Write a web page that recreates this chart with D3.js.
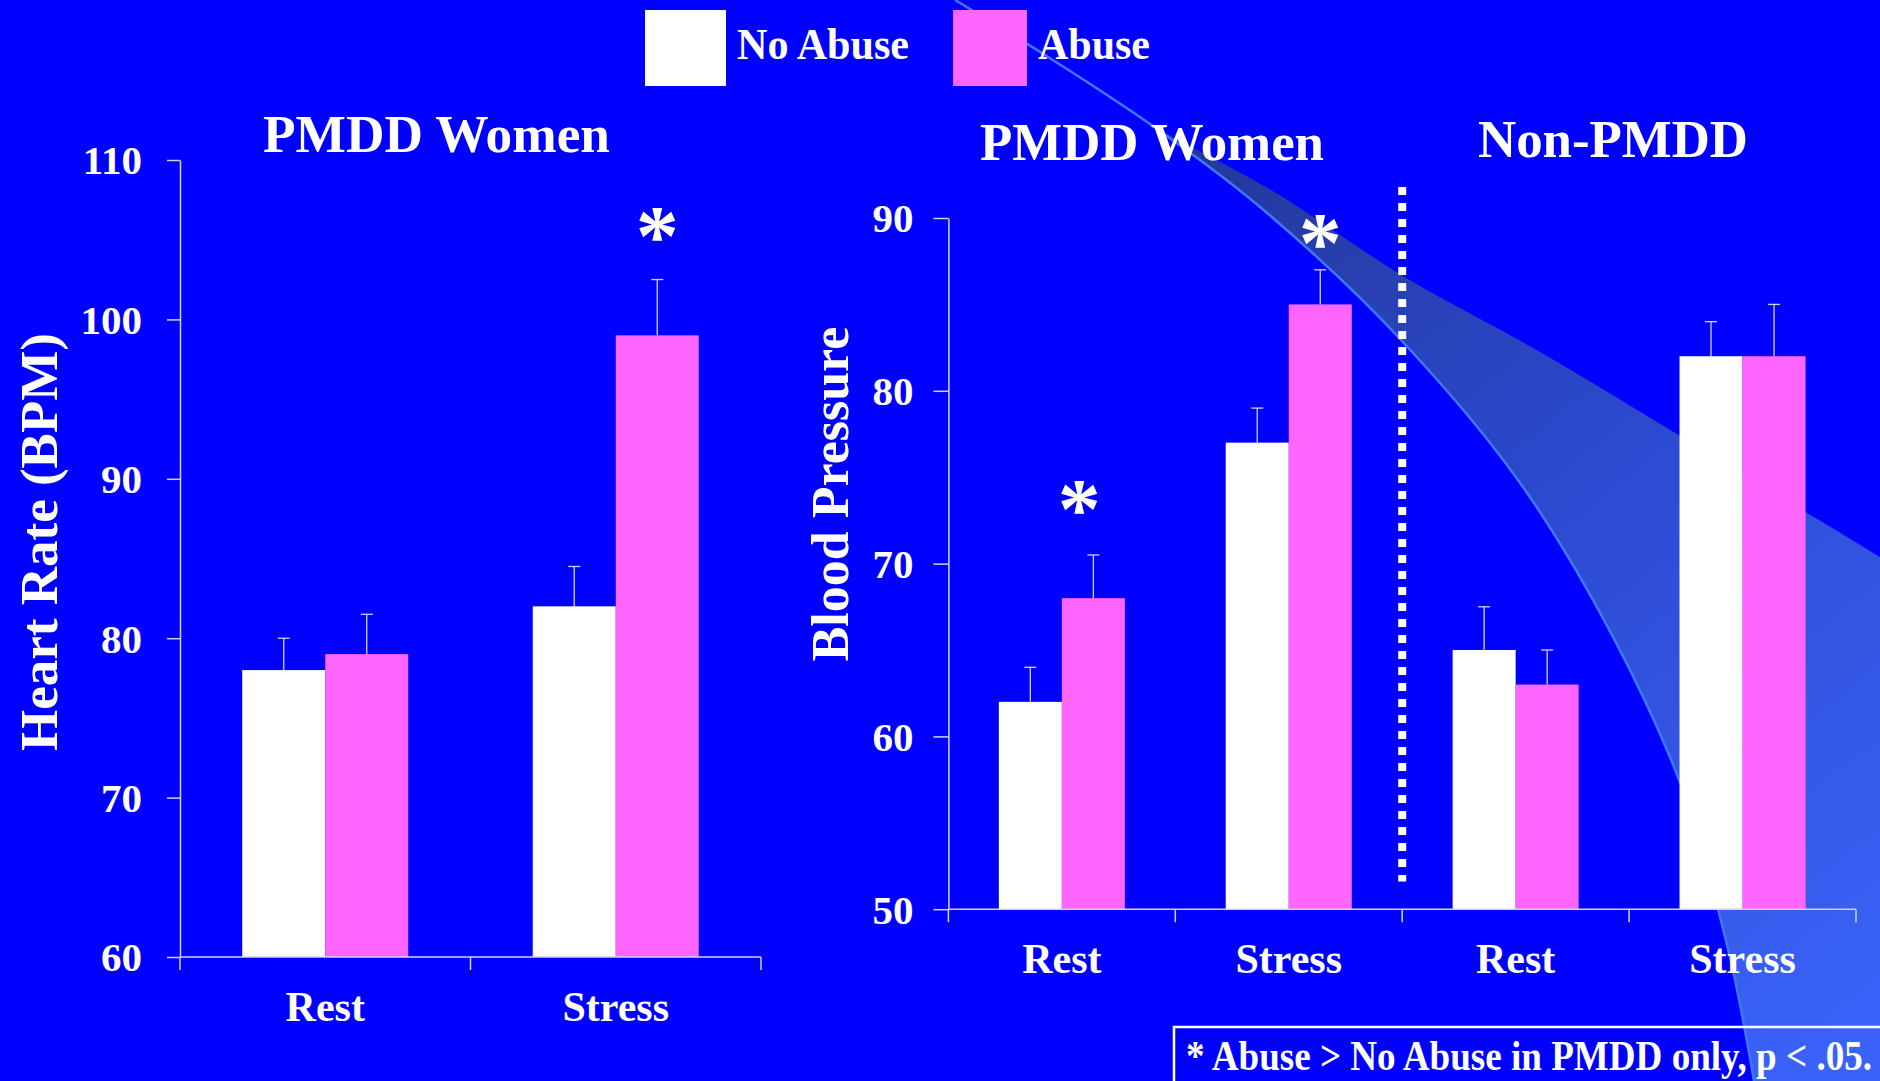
<!DOCTYPE html>
<html>
<head>
<meta charset="utf-8">
<script src="https://cdn.jsdelivr.net/npm/d3@7"></script>
<style>
  html, body { margin: 0; padding: 0; background: #0000ff; overflow: hidden; }
  svg { display: block; }
</style>
</head>
<body>
<svg id="chart" width="1880" height="1081"></svg>
<script>
// ---- Heart rate (BPM), PMDD women ----
const hrCategories = ["Rest", "Stress"];
const hrNoAbuse    = [78, 82];
const hrNoAbuseErr = [2, 2.5];
const hrAbuse      = [79, 99];
const hrAbuseErr   = [2.5, 3.5];
const hrTicks      = [60, 70, 80, 90, 100, 110];
const hrStars      = [{ i: 1, v: 105.8 }];

// ---- Blood pressure, PMDD women and non-PMDD ----
const bpCategories = ["Rest", "Stress", "Rest", "Stress"];
const bpNoAbuse    = [62, 77, 65, 82];
const bpNoAbuseErr = [2, 2, 2.5, 2];
const bpAbuse      = [68, 85, 63, 82];
const bpAbuseErr   = [2.5, 2, 2, 3];
const bpTicks      = [50, 60, 70, 80, 90];
const bpStars      = [{ i: 0, v: 73.7 }, { i: 1, v: 89.1 }];
const bpDivider    = [51.6, 91.8];   // extent of the dotted separator, in axis units

const seriesNames  = ["No Abuse", "Abuse"];
const seriesColors = ["#ffffff", "#ff66ff"];
const footnote     = "* Abuse > No Abuse in PMDD only, p < .05.";

const FONT = "'Liberation Serif', 'Times New Roman', serif";
const AXIS_COLOR = "#d2d2e6";
const svg = d3.select("#chart");

// ---- background ----
svg.append("rect").attr("width", 1880).attr("height", 1081).attr("fill", "#0000ff");

// decorative swoosh behind the plots
const defs = svg.append("defs");
const grad = defs.append("linearGradient").attr("id", "swoosh")
  .attr("gradientUnits", "userSpaceOnUse")
  .attr("x1", 1200).attr("y1", 160).attr("x2", 1880).attr("y2", 1000);
grad.append("stop").attr("offset", 0).attr("stop-color", "#24389c");
grad.append("stop").attr("offset", 0.45).attr("stop-color", "#2c4ad0");
grad.append("stop").attr("offset", 1).attr("stop-color", "#3a62f8");

const curve = d3.line().curve(d3.curveCatmullRom.alpha(0.5));
const upperEdge = [[955, 0], [1045, 55], [1150, 124], [1271, 190], [1403, 276], [1540, 352], [1700, 448], [1880, 557]];
const lowerEdge = [[955, 0], [1045, 55], [1150, 124], [1260, 207], [1402, 341], [1540, 512], [1672, 762], [1727, 945], [1754, 1081]];
const swooshPath = curve(upperEdge) + "L1880,1081" + curve(lowerEdge.slice().reverse()).replace(/^M/, "L") + "Z";
svg.append("path").attr("d", swooshPath).attr("fill", "url(#swoosh)");
svg.append("path").attr("d", curve(lowerEdge)).attr("fill", "none")
  .attr("stroke", "#3f78ff").attr("stroke-width", 2.5);

// ---- helpers ----
function fitText(sel, width) {
  return sel.attr("textLength", width).attr("lengthAdjust", "spacingAndGlyphs");
}

function drawPanel(cfg) {
  const n = cfg.categories.length;
  const x0 = d3.scaleBand().domain(d3.range(n)).range(cfg.xRange).padding(0);
  const x1 = d3.scaleBand().domain(seriesNames).range([0, x0.bandwidth()])
    .paddingInner(0).paddingOuter(cfg.groupPad);
  const y = d3.scaleLinear().domain(cfg.domain).range(cfg.yRange);
  const base = y(cfg.domain[0]);
  const g = svg.append("g");

  const values = [cfg.noAbuse, cfg.abuse];
  const errs = [cfg.noAbuseErr, cfg.abuseErr];
  const rows = [];
  seriesNames.forEach((s, k) => {
    d3.range(n).forEach(i => rows.push({ i, s, k, v: values[k][i], e: errs[k][i] }));
  });

  // bars
  g.selectAll("rect.bar").data(rows).join("rect")
    .attr("class", "bar")
    .attr("x", d => x0(d.i) + x1(d.s))
    .attr("y", d => y(d.v))
    .attr("width", x1.bandwidth())
    .attr("height", d => base - y(d.v))
    .attr("fill", d => seriesColors[d.k]);

  // upper error bars
  const cx = d => x0(d.i) + x1(d.s) + x1.bandwidth() / 2;
  g.selectAll("line.err").data(rows).join("line")
    .attr("class", "err")
    .attr("x1", cx).attr("x2", cx)
    .attr("y1", d => y(d.v)).attr("y2", d => y(d.v + d.e))
    .attr("stroke", AXIS_COLOR).attr("stroke-width", 1.3);
  g.selectAll("line.cap").data(rows).join("line")
    .attr("class", "cap")
    .attr("x1", d => cx(d) - 6).attr("x2", d => cx(d) + 6)
    .attr("y1", d => y(d.v + d.e)).attr("y2", d => y(d.v + d.e))
    .attr("stroke", AXIS_COLOR).attr("stroke-width", 1.3);

  // y axis
  const ya = g.append("g").attr("transform", `translate(${cfg.xRange[0]},0)`)
    .call(d3.axisLeft(y).tickValues(cfg.ticks).tickSize(cfg.tickLen)
      .tickPadding(cfg.tickPad).tickSizeOuter(0).tickFormat(d3.format("d")));
  ya.select(".domain").attr("stroke", AXIS_COLOR).attr("stroke-width", 1.5);
  ya.selectAll(".tick line").attr("stroke", AXIS_COLOR).attr("stroke-width", 1.5);
  ya.selectAll(".tick text").attr("fill", "#ffffff").attr("font-family", FONT)
    .attr("font-weight", "bold").attr("font-size", 41).attr("dy", "0.34em");

  // x axis: baseline, boundary ticks, centred labels
  g.append("line").attr("x1", cfg.xRange[0]).attr("x2", cfg.xRange[1])
    .attr("y1", base).attr("y2", base)
    .attr("stroke", AXIS_COLOR).attr("stroke-width", 1.5);
  const bounds = d3.range(n).map(i => x0(i)).concat([cfg.xRange[1]]);
  g.selectAll("line.xtick").data(bounds).join("line")
    .attr("class", "xtick")
    .attr("x1", d => d).attr("x2", d => d)
    .attr("y1", base).attr("y2", base + 13)
    .attr("stroke", AXIS_COLOR).attr("stroke-width", 1.5);
  g.selectAll("text.xlab").data(cfg.categories).join("text")
    .attr("class", "xlab")
    .attr("x", (d, i) => x0(i) + x0.bandwidth() / 2)
    .attr("y", base + 64)
    .attr("text-anchor", "middle")
    .attr("fill", "#ffffff").attr("font-family", FONT)
    .attr("font-weight", "bold").attr("font-size", 42)
    .text(d => d);

  // significance asterisks over the Abuse bars
  g.selectAll("text.star").data(cfg.stars).join("text")
    .attr("class", "star")
    .attr("x", (d, j) => x0(d.i) + x1("Abuse") + x1.bandwidth() / 2 + (cfg.starNudge ? cfg.starNudge[j] : 0))
    .attr("y", d => y(d.v) + 38)
    .attr("text-anchor", "middle")
    .attr("fill", "#ffffff").attr("font-family", FONT)
    .attr("font-weight", "bold").attr("font-size", 86)
    .text("*");

  return { x0, y, g };
}

// ---- heart rate panel ----
drawPanel({
  categories: hrCategories, noAbuse: hrNoAbuse, noAbuseErr: hrNoAbuseErr,
  abuse: hrAbuse, abuseErr: hrAbuseErr, ticks: hrTicks, stars: hrStars,
  domain: [60, 110], xRange: [180, 761], yRange: [957, 160],
  groupPad: 0.75, tickLen: 13, tickPad: 25
});

// ---- blood pressure panel ----
const bp = drawPanel({
  categories: bpCategories, noAbuse: bpNoAbuse, noAbuseErr: bpNoAbuseErr,
  abuse: bpAbuse, abuseErr: bpAbuseErr, ticks: bpTicks, stars: bpStars,
  starNudge: [-14, 0],
  domain: [50, 90], xRange: [948.4, 1856], yRange: [909.2, 218],
  groupPad: 0.8, tickLen: 15, tickPad: 20
});

// dotted separator between the PMDD and non-PMDD groups
bp.g.append("line")
  .attr("x1", bp.x0(2)).attr("x2", bp.x0(2))
  .attr("y1", bp.y(bpDivider[1])).attr("y2", bp.y(bpDivider[0]))
  .attr("stroke", "#ffffff").attr("stroke-width", 8)
  .attr("stroke-dasharray", "8 8");

// ---- titles ----
function label(text, x, y, size, width) {
  const t = svg.append("text").attr("x", x).attr("y", y)
    .attr("fill", "#ffffff").attr("font-family", FONT)
    .attr("font-weight", "bold").attr("font-size", size).text(text);
  if (width) fitText(t, width);
  return t;
}
label("PMDD Women", 263, 152, 53, 347);
label("PMDD Women", 980, 160, 53, 344);
label("Non-PMDD", 1478, 157, 53, 270);

// rotated y-axis titles
svg.append("text").attr("transform", "translate(57,542) rotate(-90)")
  .attr("text-anchor", "middle").attr("fill", "#ffffff").attr("font-family", FONT)
  .attr("font-weight", "bold").attr("font-size", 53).text("Heart Rate (BPM)");
svg.append("text").attr("transform", "translate(848,494) rotate(-90)")
  .attr("text-anchor", "middle").attr("fill", "#ffffff").attr("font-family", FONT)
  .attr("font-weight", "bold").attr("font-size", 52).text("Blood Pressure");

// ---- legend ----
const legendItems = [
  { rx: 645, rw: 81, tx: 737, tw: 172 },
  { rx: 953, rw: 74, tx: 1038, tw: 112 }
];
legendItems.forEach((it, k) => {
  svg.append("rect").attr("x", it.rx).attr("y", 10).attr("width", it.rw).attr("height", 76)
    .attr("fill", seriesColors[k]);
  label(seriesNames[k], it.tx, 58.5, 44, it.tw);
});

// ---- footnote box ----
svg.append("rect").attr("x", 1174).attr("y", 1027).attr("width", 760).attr("height", 120)
  .attr("fill", "none").attr("stroke", "#ffffff").attr("stroke-width", 2.5);
label(footnote, 1186, 1070, 42, 686);
</script>
</body>
</html>
